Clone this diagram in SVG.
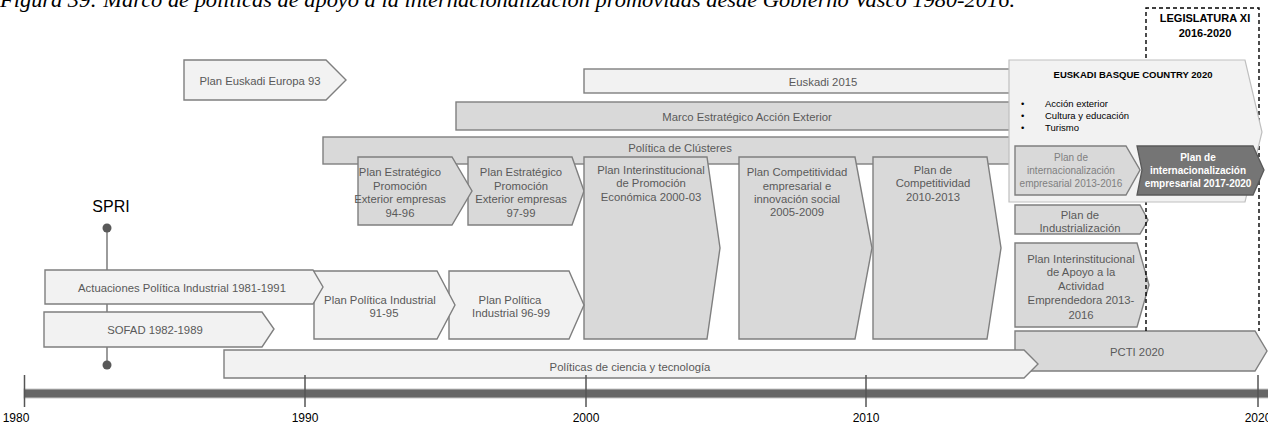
<svg xmlns="http://www.w3.org/2000/svg" width="1268" height="423" viewBox="0 0 1268 423">
<style>
.bx{stroke:#7f7f7f;stroke-width:1.4}
.lt{fill:#f2f2f2}
.md{fill:#d9d9d9}
.t{font-family:"Liberation Sans",Arial,sans-serif;font-size:11.3px;fill:#595959;text-anchor:middle}
.s{font-family:"Liberation Sans",Arial,sans-serif;font-size:10px;text-anchor:middle}
.ax{font-family:"Liberation Sans",Arial,sans-serif;font-size:12px;fill:#000;text-anchor:middle}
.tick{stroke:#555;stroke-width:1.5}
</style>
<text x="0" y="7" font-family="'Liberation Serif',serif" font-style="italic" font-size="21" textLength="1015" lengthAdjust="spacingAndGlyphs" fill="#000">Figura 39: Marco de políticas de apoyo a la internacionalización promovidas desde Gobierno Vasco 1980-2016.</text>

<g id="axis">
<rect x="24" y="389" width="1250" height="9" fill="#666" stroke="#c8c8c8" stroke-width="1"/>
</g>

<g id="connectors">
<line x1="107" y1="228" x2="107" y2="365" stroke="#595959" stroke-width="1.2"/>
<circle cx="107" cy="228" r="4.5" fill="#595959"/>
<circle cx="107" cy="365" r="4.5" fill="#595959"/>
</g>
<text x="111" y="212" font-family="'Liberation Sans',Arial,sans-serif" font-size="16" text-anchor="middle" fill="#000">SPRI</text>

<g id="euskadi-europa-93">
<polygon class="bx lt" points="184,60 326,60 346,80 326,100 184,100"/>
<text class="t" x="260" y="85">Plan Euskadi Europa 93</text>
</g>
<g id="euskadi-2015">
<rect class="bx lt" x="584" y="69" width="480" height="24"/>
<text class="t" x="823" y="86">Euskadi 2015</text>
</g>
<g id="marco-accion-exterior">
<rect class="bx md" x="456" y="102" width="608" height="28"/>
<text class="t" x="747" y="121">Marco Estratégico Acción Exterior</text>
</g>
<g id="clusteres">
<rect class="bx md" x="323" y="137" width="741" height="27"/>
<text class="t" x="680" y="152">Política de Clústeres</text>
</g>

<g id="pee-97-99">
<polygon class="bx md" points="468,157 572,157 584,191 572,225 468,225"/>
<text class="t" x="521" y="176">Plan Estratégico</text>
<text class="t" x="521" y="190">Promoción</text>
<text class="t" x="521" y="203">Exterior empresas</text>
<text class="t" x="521" y="217">97-99</text>
</g>
<g id="pee-94-96">
<polygon class="bx md" points="358,157 452,157 472,191 452,225 358,225"/>
<text class="t" x="400" y="176">Plan Estratégico</text>
<text class="t" x="400" y="190">Promoción</text>
<text class="t" x="400" y="203">Exterior empresas</text>
<text class="t" x="400" y="217">94-96</text>
</g>
<g id="interinst-2000-03">
<polygon class="bx md" points="584,157 707,157 720,248 707,339 584,339"/>
<text class="t" x="651" y="174">Plan Interinstitucional</text>
<text class="t" x="651" y="187">de Promoción</text>
<text class="t" x="651" y="201">Económica 2000-03</text>
</g>
<g id="competitividad-2005-2009">
<polygon class="bx md" points="739,157 855,157 872,248 855,339 739,339"/>
<text class="t" x="797" y="176">Plan Competitividad</text>
<text class="t" x="797" y="190">empresarial e</text>
<text class="t" x="797" y="203">innovación social</text>
<text class="t" x="797" y="216">2005-2009</text>
</g>
<g id="competitividad-2010-2013">
<polygon class="bx md" points="873,157 987,157 1001,248 987,339 873,339"/>
<text class="t" x="933" y="174">Plan de</text>
<text class="t" x="933" y="187">Competitividad</text>
<text class="t" x="933" y="201">2010-2013</text>
</g>

<g id="ppi-96-99">
<polygon class="bx lt" points="449,271 569,271 584,305 569,339 449,339"/>
<text class="t" x="510" y="304">Plan Política</text>
<text class="t" x="511" y="317">Industrial 96-99</text>
</g>
<g id="ppi-91-95">
<polygon class="bx lt" points="314,271 437,271 455,305 437,339 314,339"/>
<text class="t" x="380" y="304">Plan Política Industrial</text>
<text class="t" x="384" y="317">91-95</text>
</g>
<g id="actuaciones">
<polygon class="bx lt" points="45,270 313,270 323,287 313,304 45,304"/>
<text class="t" x="182" y="292">Actuaciones Política Industrial 1981-1991</text>
</g>
<g id="sofad">
<polygon class="bx lt" points="44,312 262,312 274,329 262,347 44,347"/>
<text class="t" x="155" y="334">SOFAD 1982-1989</text>
</g>

<g id="industrializacion">
<polygon class="bx md" points="1015,205 1140,205 1148,220 1140,234 1015,234"/>
<text class="t" x="1080" y="219">Plan de</text>
<text class="t" x="1080" y="232">Industrialización</text>
</g>
<g id="emprendedora">
<polygon class="bx md" points="1015,243 1137,243 1149,285 1137,327 1015,327"/>
<text class="t" x="1081" y="263">Plan Interinstitucional</text>
<text class="t" x="1081" y="276">de Apoyo a la</text>
<text class="t" x="1081" y="290">Actividad</text>
<text class="t" x="1081" y="304">Emprendedora 2013-</text>
<text class="t" x="1081" y="319">2016</text>
</g>
<g id="pcti-2020">
<polygon class="bx md" points="1015,331 1255,331 1267,351 1255,371 1015,371"/>
<text class="t" x="1137" y="356">PCTI 2020</text>
</g>
<g id="ciencia-tecnologia">
<polygon class="bx lt" points="224,350 1024,350 1038,364 1024,378 224,378"/>
<text class="t" x="630" y="371">Políticas de ciencia y tecnología</text>
</g>

<g id="legislatura-xi">
<path d="M1146,331 V8 H1259 V331" fill="none" stroke="#000" stroke-width="1.4" stroke-dasharray="4,3"/>
<text x="1205" y="22" font-family="'Liberation Sans',Arial,sans-serif" font-size="11" font-weight="bold" text-anchor="middle">LEGISLATURA XI</text>
<text x="1205" y="37" font-family="'Liberation Sans',Arial,sans-serif" font-size="11" font-weight="bold" text-anchor="middle">2016-2020</text>
</g>

<g id="euskadi-basque-country-2020">
<polygon points="1009,60 1245,60 1262,132 1245,202 1009,202" fill="#f2f2f2" stroke="#bfbfbf" stroke-width="1.2"/>
<text x="1133" y="77.5" font-family="'Liberation Sans',Arial,sans-serif" font-size="9.5" font-weight="bold" text-anchor="middle">EUSKADI BASQUE COUNTRY 2020</text>
<g font-family="'Liberation Sans',Arial,sans-serif" font-size="9.5" fill="#000">
<text x="1021" y="106.5">•</text><text x="1045" y="106.5">Acción exterior</text>
<text x="1021" y="118.5">•</text><text x="1045" y="118.5">Cultura y educación</text>
<text x="1021" y="130.5">•</text><text x="1045" y="130.5">Turismo</text>
</g>
</g>
<g id="internacionalizacion-2017-2020">
<polygon points="1137,146 1253,146 1264,170 1253,195 1137,195 1142,170" fill="#757575" stroke="#595959" stroke-width="1.3"/>
<text class="s" x="1198" y="161" fill="#fff" font-weight="bold">Plan de</text>
<text class="s" x="1198" y="174" fill="#fff" font-weight="bold">internacionalización</text>
<text class="s" x="1198" y="187" fill="#fff" font-weight="bold">empresarial 2017-2020</text>
</g>
<g id="internacionalizacion-2013-2016">
<polygon class="bx md" points="1015,146 1126,146 1140,170 1126,195 1015,195"/>
<text class="s" x="1071" y="161" fill="#7f7f7f">Plan de</text>
<text class="s" x="1071" y="174" fill="#7f7f7f">internacionalización</text>
<text class="s" x="1071" y="187" fill="#7f7f7f">empresarial 2013-2016</text>
</g>

<g id="ticks">
<line class="tick" x1="24.5" y1="375" x2="24.5" y2="407"/>
<line class="tick" x1="305" y1="375" x2="305" y2="407"/>
<line class="tick" x1="586" y1="375" x2="586" y2="407"/>
<line class="tick" x1="866" y1="375" x2="866" y2="407"/>
<line class="tick" x1="1258" y1="375" x2="1258" y2="407"/>
<text class="ax" x="16" y="422">1980</text>
<text class="ax" x="305" y="422">1990</text>
<text class="ax" x="586" y="422">2000</text>
<text class="ax" x="866" y="422">2010</text>
<text class="ax" x="1258" y="422">2020</text>
</g>
</svg>
